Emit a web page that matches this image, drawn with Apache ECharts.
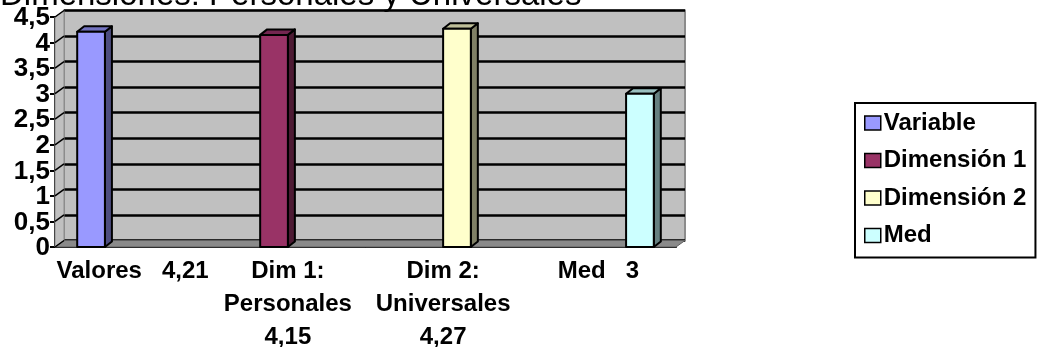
<!DOCTYPE html>
<html>
<head>
<meta charset="utf-8">
<script src="https://cdn.jsdelivr.net/npm/echarts@6/dist/echarts.min.js"></script>
<style>
  html, body { margin: 0; padding: 0; background: #fff; }
  #chart { width: 1038px; height: 347px; }
</style>
</head>
<body>
<div id="chart"></div>
<script>
const categories = ['Valores   4,21', 'Dim 1:\nPersonales\n4,15', 'Dim 2:\nUniversales\n4,27', 'Med   3'];
const seriesNames = ['Variable', 'Dimensión 1', 'Dimensión 2', 'Med'];
const values = [4.21, 4.15, 4.27, 3];
const yTicks = [0, 0.5, 1, 1.5, 2, 2.5, 3, 3.5, 4, 4.5];

const faceColors = ['#9999FF', '#993366', '#FFFFCC', '#CCFFFF'];
const sideColors = ['#4D4D80', '#4D1A33', '#808066', '#668080'];
const topColors = ['#7373BF', '#732650', '#BFBF99', '#99BFBF'];

const FONT = '"Liberation Sans", Arial, sans-serif';
const WALL_DX = 9, WALL_DY = -6.5;  // depth of the back wall
const BAR_DX = 7, BAR_DY = -5.5;    // depth of a column
const GAP = 0.286;                  // gap between categories

const chart = echarts.init(document.getElementById('chart'));
const comma = v => String(v).replace('.', ',');

// one 3D column, placed in its own slot of the cluster like excel does
function barItem(idx) {
  return function (params, api) {
    const cat = api.value(0);
    const top = api.coord([cat, api.value(1)]);
    const base = api.coord([cat, 0]);
    const catW = api.size([1, 0])[0];
    const w = catW * (1 - GAP) / seriesNames.length;
    const x0 = top[0] - catW / 2 + catW * GAP / 2 + idx * w;
    const x1 = x0 + w;
    const y0 = base[1], y1 = top[1];
    const edge = { stroke: '#000', lineWidth: 2, lineJoin: 'round' };
    return {
      type: 'group',
      children: [
        { type: 'polygon', shape: { points: [[x1, y1], [x1 + BAR_DX, y1 + BAR_DY], [x1 + BAR_DX, y0 + BAR_DY], [x1, y0]] },
          style: Object.assign({ fill: sideColors[idx] }, edge) },
        { type: 'polygon', shape: { points: [[x0, y1], [x0 + BAR_DX, y1 + BAR_DY], [x1 + BAR_DX, y1 + BAR_DY], [x1, y1]] },
          style: Object.assign({ fill: topColors[idx] }, edge) },
        { type: 'rect', shape: { x: x0, y: y1, width: w, height: y0 - y1 },
          style: Object.assign({ fill: faceColors[idx] }, edge) }
      ]
    };
  };
}

// left wall, floor, grid lines over the left wall and the value labels
// (labels drawn here: the axis drops some of them when they are this big)
function wallItem(params, api) {
  const cs = params.coordSys;
  const v = api.value(1);
  const y = api.coord([0, v])[1];
  const children = [];
  if (params.dataIndex === 0) {
    const yb = cs.y + cs.height;
    children.push({ type: 'polygon',
      shape: { points: [[cs.x, yb], [cs.x, cs.y], [cs.x + WALL_DX, cs.y + WALL_DY], [cs.x + WALL_DX, yb + WALL_DY]] },
      style: { fill: '#C0C0C0', stroke: '#8C8C8C', lineWidth: 1 } });
    children.push({ type: 'polygon',
      shape: { points: [[cs.x, yb], [cs.x + cs.width, yb], [cs.x + cs.width + WALL_DX, yb + WALL_DY], [cs.x + WALL_DX, yb + WALL_DY]] },
      style: { fill: '#8A8A8A', stroke: '#5E5E5E', lineWidth: 1 } });
  }
  children.push({ type: 'line',
    shape: { x1: cs.x, y1: y, x2: cs.x + WALL_DX, y2: y + WALL_DY },
    style: { stroke: '#000', lineWidth: 1.5 } });
  children.push({ type: 'text', x: cs.x - 5, y: y + 1,
    style: { text: comma(v), align: 'right', verticalAlign: 'middle',
      fontSize: 26, fontWeight: 'bold', fontFamily: FONT, fill: '#000' } });
  return { type: 'group', children };
}

const option = {
  animation: false,
  title: {
    text: 'Dimensiones: Personales y Universales',
    left: -5, top: -26,
    textStyle: { fontSize: 33, fontWeight: 'normal', color: '#000', fontFamily: FONT }
  },
  legend: {
    data: seriesNames,
    orient: 'vertical',
    left: 855, top: 103,
    icon: 'rect',
    itemWidth: 16, itemHeight: 14, itemGap: 13.5,
    padding: [8, 9, 10, 9],
    borderColor: '#000', borderWidth: 2,
    itemStyle: { borderColor: '#000', borderWidth: 1.5 },
    textStyle: { fontSize: 24, fontWeight: 'bold', color: '#000', fontFamily: FONT, padding: [0, 0, 0, -2] }
  },
  grid: [
    { left: 55, right: 362, top: 17, bottom: 100, outerBoundsMode: 'none' },
    { left: 64, right: 353, top: 10.5, bottom: 106.5, outerBoundsMode: 'none', show: true,
      backgroundColor: '#C0C0C0', borderColor: '#8C8C8C', borderWidth: 2 }
  ],
  xAxis: [
    { type: 'category', gridIndex: 0, data: categories,
      axisLine: { lineStyle: { color: '#000', width: 2 } },
      axisTick: { length: 6, lineStyle: { color: '#000', width: 2 } },
      axisLabel: { interval: 0, margin: 8, color: '#000', fontSize: 24, fontWeight: 'bold',
        lineHeight: 33, fontFamily: FONT } },
    { type: 'category', gridIndex: 1, data: categories, show: false }
  ],
  yAxis: [
    { type: 'value', gridIndex: 0, min: 0, max: 4.5, interval: 0.5,
      axisLine: { show: true, lineStyle: { color: '#000', width: 2 } },
      axisTick: { show: true, length: 5, lineStyle: { color: '#000', width: 2 } },
      splitLine: { show: false },
      axisLabel: { show: false } },
    { type: 'value', gridIndex: 1, min: 0, max: 4.5, interval: 0.5,
      axisLine: { show: false }, axisTick: { show: false }, axisLabel: { show: false },
      splitLine: { lineStyle: { color: '#000', width: 2.5 } } }
  ],
  series: [
    { type: 'custom', name: 'wall', xAxisIndex: 0, yAxisIndex: 0, silent: true, z: 1,
      renderItem: wallItem, data: yTicks.map(v => [0, v]) }
  ].concat(seriesNames.map((name, i) => ({
    type: 'custom', name, xAxisIndex: 0, yAxisIndex: 0, z: 3,
    itemStyle: { color: faceColors[i] },
    encode: { x: 0, y: 1 },
    renderItem: barItem(i),
    data: [[i, values[i]]]
  })))
};

chart.setOption(option);
</script>
</body>
</html>
